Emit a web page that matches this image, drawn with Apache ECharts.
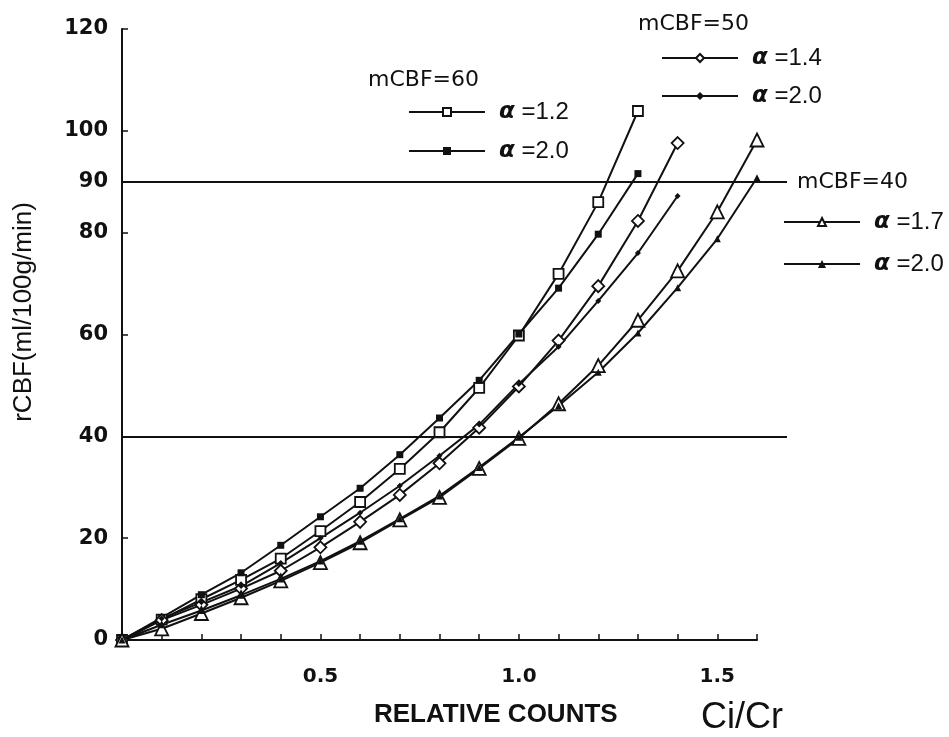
<!DOCTYPE html>
<html>
<head>
<meta charset="utf-8">
<title>rCBF vs relative counts</title>
<script src="https://cdn.jsdelivr.net/npm/echarts@6/dist/echarts.min.js"></script>
<style>
  html, body { margin: 0; padding: 0; background: #fff; }
  #chart { width: 949px; height: 737px; }
</style>
</head>
<body>
<div id="chart"></div>
<script>
// relative counts Ci/Cr, one point every 0.1
const relCounts = [0, 0.1, 0.2, 0.3, 0.4, 0.5, 0.6, 0.7, 0.8, 0.9, 1.0, 1.1, 1.2, 1.3, 1.4, 1.5, 1.6];

// rCBF (ml/100g/min)
const cbf60a12 = [0, 4.0, 8.0, 11.8, 16.0, 21.4, 27.1, 33.6, 40.8, 49.5, 59.8, 71.9, 86.0, 103.9];
const cbf60a20 = [0, 4.4, 8.9, 13.2, 18.6, 24.2, 29.8, 36.4, 43.6, 51.0, 60.1, 69.1, 79.7, 91.6];
const cbf50a14 = [0, 3.9, 6.9, 10.1, 13.6, 18.2, 23.2, 28.5, 34.7, 41.7, 49.8, 58.8, 69.5, 82.3, 97.6];
const cbf50a20 = [0, 4.2, 7.4, 10.6, 15.1, 20.0, 25.0, 30.3, 36.2, 42.3, 50.3, 57.6, 66.6, 76.0, 87.2];
const cbf40a17 = [0, 2.2, 5.2, 8.3, 11.6, 15.2, 19.1, 23.6, 28.0, 33.7, 39.6, 46.4, 53.9, 62.8, 72.5, 84.1, 98.2];
const cbf40a20 = [0, 3.0, 5.8, 8.8, 12.0, 15.5, 19.4, 23.8, 28.3, 33.9, 39.8, 46.0, 52.6, 60.3, 69.2, 78.8, 90.8];

// horizontal reference levels
const refLevels = [40, 90];

// axis labels / ticks
const xLabelValues = [0.5, 1.0, 1.5];
const yLabelValues = [0, 20, 40, 60, 80, 90, 100, 120];
const yTickValues = [0, 20, 40, 60, 80, 100, 120];

const INK = "#111";
const SANS = "'Liberation Sans', Arial, sans-serif";
const WIDE = "'DejaVu Sans', sans-serif";

function pairs(ys) {
  return ys.map((y, i) => [relCounts[i], y]);
}

function curve(name, ys, symbol, size, filled) {
  return {
    name: name,
    type: "line",
    xAxisIndex: 0,
    yAxisIndex: 0,
    data: pairs(ys),
    symbol: symbol,
    symbolSize: size,
    showAllSymbol: true,
    z: 3,
    lineStyle: { color: INK, width: 2 },
    itemStyle: {
      color: filled ? INK : "#fff",
      borderColor: INK,
      borderWidth: filled ? 0 : 1.8
    }
  };
}

const legendText = {
  fontFamily: SANS,
  fontSize: 24,
  color: INK,
  padding: [0, 0, 0, 9],
  rich: {
    a: { fontFamily: WIDE, fontStyle: "italic", fontWeight: "bold", fontSize: 23, color: INK }
  }
};

function legendBlock(names, left, top, gap) {
  return {
    data: names,
    orient: "vertical",
    left: left,
    top: top,
    itemWidth: 76,
    itemHeight: 10,
    itemGap: gap,
    padding: 0,
    selectedMode: false,
    textStyle: legendText,
    formatter: name => "{a|α} =" + name.split("α=")[1]
  };
}

function heading(text, left, top) {
  return {
    text: text,
    left: left,
    top: top,
    padding: 0,
    textStyle: { fontFamily: WIDE, fontSize: 22, fontWeight: "normal", color: INK }
  };
}

const chart = echarts.init(document.getElementById("chart"));

chart.setOption({
  animation: false,
  backgroundColor: "#fff",
  title: [
    heading("mCBF=60", 368, 69),
    heading("mCBF=50", 638, 13),
    heading("mCBF=40", 797, 171),
    {
      text: "RELATIVE COUNTS",
      left: 374,
      top: 702,
      padding: 0,
      textStyle: { fontFamily: SANS, fontSize: 26, fontWeight: "bold", color: INK }
    },
    {
      text: "Ci/Cr",
      left: 701,
      top: 700,
      padding: 0,
      textStyle: { fontFamily: SANS, fontSize: 36, fontWeight: "normal", color: INK }
    }
  ],
  graphic: [
    {
      type: "text",
      x: 24,
      y: 312,
      rotation: Math.PI / 2,
      style: {
        text: "rCBF(ml/100g/min)",
        fontFamily: SANS,
        fontSize: 26,
        fill: INK,
        textAlign: "center",
        textVerticalAlign: "middle"
      }
    }
  ],
  legend: [
    legendBlock(["mCBF=60 α=1.2", "mCBF=60 α=2.0"], 408, 100, 15),
    legendBlock(["mCBF=50 α=1.4", "mCBF=50 α=2.0"], 661, 46, 14),
    legendBlock(["mCBF=40 α=1.7", "mCBF=40 α=2.0"], 783, 210, 18)
  ],
  grid: [
    { left: 122, top: 29, right: 192, bottom: 97 },
    { left: 122, top: 29, right: 162, bottom: 97 }
  ],
  xAxis: [
    {
      gridIndex: 0,
      type: "value",
      min: 0,
      max: 1.6,
      interval: 0.1,
      splitLine: { show: false },
      axisLine: { lineStyle: { color: INK, width: 2 } },
      axisTick: { inside: true, length: 6, lineStyle: { color: INK, width: 1.5 } },
      axisLabel: {
        customValues: xLabelValues,
        formatter: v => v.toFixed(1),
        margin: 27,
        fontFamily: WIDE,
        fontWeight: "bold",
        fontSize: 20,
        color: INK
      }
    },
    {
      gridIndex: 1,
      type: "value",
      min: 0,
      max: 1.7,
      show: false
    }
  ],
  yAxis: [
    {
      gridIndex: 0,
      type: "value",
      min: 0,
      max: 120,
      interval: 10,
      splitLine: { show: false },
      axisLine: { lineStyle: { color: INK, width: 2 } },
      axisTick: { customValues: yTickValues, inside: true, length: 6, lineStyle: { color: INK, width: 1.5 } },
      axisLabel: {
        customValues: yLabelValues,
        margin: 14,
        fontFamily: WIDE,
        fontWeight: "bold",
        fontSize: 21,
        color: INK
      }
    },
    {
      gridIndex: 1,
      type: "value",
      min: 0,
      max: 120,
      show: false
    }
  ],
  series: [
    {
      name: "reference",
      type: "line",
      xAxisIndex: 1,
      yAxisIndex: 1,
      data: [],
      z: 1,
      markLine: {
        silent: true,
        symbol: ["none", "none"],
        label: { show: false },
        lineStyle: { color: INK, width: 2, type: "solid" },
        data: refLevels.map(v => ({ yAxis: v }))
      }
    },
    curve("mCBF=60 α=1.2", cbf60a12, "rect", 10, false),
    curve("mCBF=60 α=2.0", cbf60a20, "rect", 7, true),
    curve("mCBF=50 α=1.4", cbf50a14, "diamond", 12, false),
    curve("mCBF=50 α=2.0", cbf50a20, "diamond", 6, true),
    curve("mCBF=40 α=1.7", cbf40a17, "triangle", 13, false),
    curve("mCBF=40 α=2.0", cbf40a20, "triangle", 7, true)
  ]
});
</script>
</body>
</html>
